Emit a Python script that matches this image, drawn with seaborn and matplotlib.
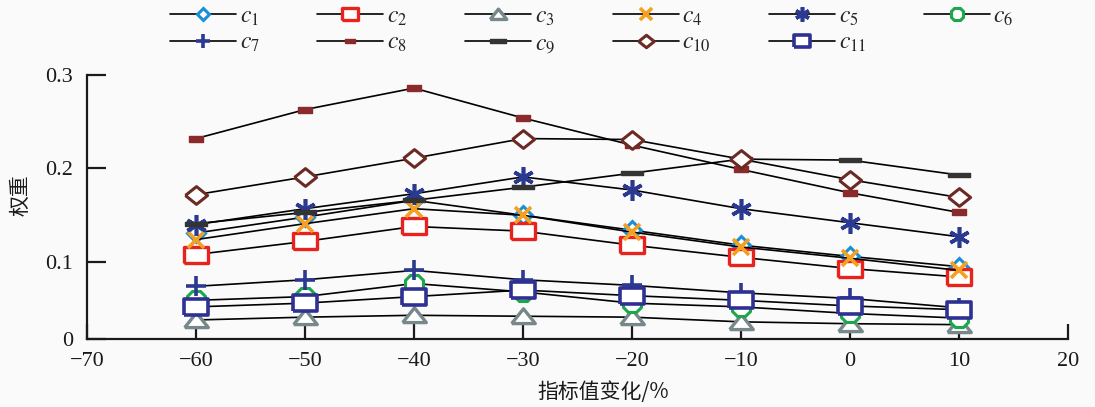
import matplotlib
matplotlib.use("Agg")
import matplotlib.pyplot as plt
import seaborn as sns
import pandas as pd

# ---- data ----
x_change = [-60, -50, -40, -30, -20, -10, 0, 10]
c1 = [0.131, 0.148, 0.166, 0.150, 0.134, 0.118, 0.106, 0.095]
c2 = [0.108, 0.122, 0.138, 0.133, 0.118, 0.105, 0.093, 0.084]
c3 = [0.038, 0.041, 0.043, 0.042, 0.041, 0.036, 0.034, 0.033]
c4 = [0.124, 0.141, 0.157, 0.150, 0.132, 0.116, 0.104, 0.091]
c5 = [0.140, 0.157, 0.173, 0.191, 0.177, 0.157, 0.142, 0.127]
c6 = [0.059, 0.063, 0.077, 0.068, 0.056, 0.052, 0.045, 0.040]
c7 = [0.074, 0.081, 0.091, 0.081, 0.075, 0.067, 0.061, 0.051]
c8 = [0.232, 0.263, 0.286, 0.254, 0.225, 0.199, 0.174, 0.153]
c9 = [0.141, 0.153, 0.166, 0.180, 0.195, 0.210, 0.209, 0.193]
c10 = [0.172, 0.191, 0.211, 0.232, 0.231, 0.210, 0.188, 0.169]
c11 = [0.052, 0.056, 0.063, 0.070, 0.064, 0.059, 0.053, 0.049]
series_names = ["c1", "c2", "c3", "c4", "c5", "c6", "c7", "c8", "c9", "c10", "c11"]
series_values = [c1, c2, c3, c4, c5, c6, c7, c8, c9, c10, c11]
x_ticks = [-70, -60, -50, -40, -30, -20, -10, 0, 10, 20]
y_tick_labels = ["0", "0.1", "0.2", "0.3"]

rows = []
for name, vals in zip(series_names, series_values):
    for xv, yv in zip(x_change, vals):
        rows.append({"x": xv, "y": yv, "s": name})
df = pd.DataFrame(rows)

# ---- styles ----
rect_wide = [(-1, -0.7), (1, -0.7), (1, 0.7), (-1, 0.7), (-1, -0.7)]
tri_wide = [(-1, -0.6), (1, -0.6), (0, 0.65), (-1, -0.6)]
dia_wide = [(-1, 0), (0, 0.8), (1, 0), (0, -0.8), (-1, 0)]
bar_small = [(-1, -0.45), (1, -0.45), (1, 0.45), (-1, 0.45), (-1, -0.45)]
bar_flat = [(-1, -0.22), (1, -0.22), (1, 0.22), (-1, 0.22), (-1, -0.22)]

styles = {
    "c1": dict(marker="D", ms=9, mfc="white", mec="#1a8fd6", mew=2.2),
    "c2": dict(marker=rect_wide, ms=17, mfc="white", mec="#e8231d", mew=2.4),
    "c3": dict(marker=tri_wide, ms=17, mfc="white", mec="#77878a", mew=2.4),
    "c4": dict(marker="x", ms=12, mfc="none", mec="#f5a020", mew=2.6),
    "c5": dict(marker=(6, 2, 0), ms=15, mfc="none", mec="#2b3990", mew=2.6),
    "c6": dict(marker="8", ms=14, mfc="white", mec="#1aa84b", mew=2.2),
    "c7": dict(marker="+", ms=14, mfc="none", mec="#2b3990", mew=2.6),
    "c8": dict(marker=bar_small, ms=10, mfc="#8b2a2a", mec="#8b2a2a", mew=1),
    "c9": dict(marker=bar_flat, ms=16, mfc="#333333", mec="#333333", mew=1),
    "c10": dict(marker=dia_wide, ms=16, mfc="white", mec="#6b2a24", mew=2.2),
    "c11": dict(marker=rect_wide, ms=17, mfc="white", mec="#2e3192", mew=2.6),
}

sns.set_theme(style="ticks")
plt.rcParams["font.family"] = ["Liberation Serif", "Noto Sans CJK SC", "DejaVu Sans"]
plt.rcParams["mathtext.fontset"] = "stix"
plt.rcParams["axes.unicode_minus"] = True

fig = plt.figure(figsize=(10.95, 4.07), dpi=100, facecolor="#fafafa")
ax = fig.add_axes([87 / 1095, 1 - 339 / 407, 981 / 1095, 264 / 407])
ax.set_facecolor("#fafafa")

for name in series_names:
    sub = df[df["s"] == name]
    st = styles[name]
    sns.lineplot(data=sub, x="x", y="y", ax=ax, color="black", lw=1.2,
                 marker=st["marker"], markersize=st["ms"],
                 markerfacecolor=st["mfc"], markeredgecolor=st["mec"],
                 markeredgewidth=st["mew"], label=f"$c_{{{name[1:]}}}$",
                 legend=False, sort=False, errorbar=None)

ybottom = 0.3 - 264 / 935
ax.set_xlim(-70, 20)
ax.set_ylim(ybottom, 0.3)
ax.set_xticks(x_ticks)
ax.set_xticklabels([f"\u2212{abs(v)}" if v < 0 else str(v) for v in x_ticks])
ax.set_yticks([ybottom, 0.1, 0.2, 0.3])
ax.set_yticklabels(y_tick_labels)

for s in ["top", "right"]:
    ax.spines[s].set_visible(False)
for s in ["left", "bottom"]:
    ax.spines[s].set_linewidth(1.6)
    ax.spines[s].set_color("#1a1a1a")

ax.tick_params(axis="x", direction="in", length=11, width=1.6, pad=9,
               labelsize=16, colors="#1a1a1a")
ax.tick_params(axis="y", direction="in", length=14, width=1.6, pad=10,
               labelsize=16, colors="#1a1a1a")

ax.set_xlabel("指标值变化/%", fontsize=15, family=["Noto Sans CJK SC", "DejaVu Sans"],
              color="#1a1a1a")
ax.xaxis.set_label_coords(0.526, -0.16)
ax.set_ylabel("权重", fontsize=15, family=["Noto Sans CJK SC", "DejaVu Sans"],
              color="#1a1a1a")
ax.yaxis.set_label_coords(-0.057, 0.545)

handles, labels = ax.get_legend_handles_labels()
# matplotlib fills legend columns first; order so rows read c1..c6 / c7..c11
order = [0, 6, 1, 7, 2, 8, 3, 9, 4, 10, 5]
fig.legend([handles[i] for i in order], [labels[i] for i in order],
           loc="upper left", bbox_to_anchor=(170 / 1095, 0.985),
           ncol=6, frameon=False, fontsize=17, handlelength=2.8,
           handletextpad=0.15, columnspacing=2.45, markerscale=0.7,
           borderpad=0, borderaxespad=0, labelspacing=0.2)

fig.savefig("out.png", dpi=100, facecolor=fig.get_facecolor())
